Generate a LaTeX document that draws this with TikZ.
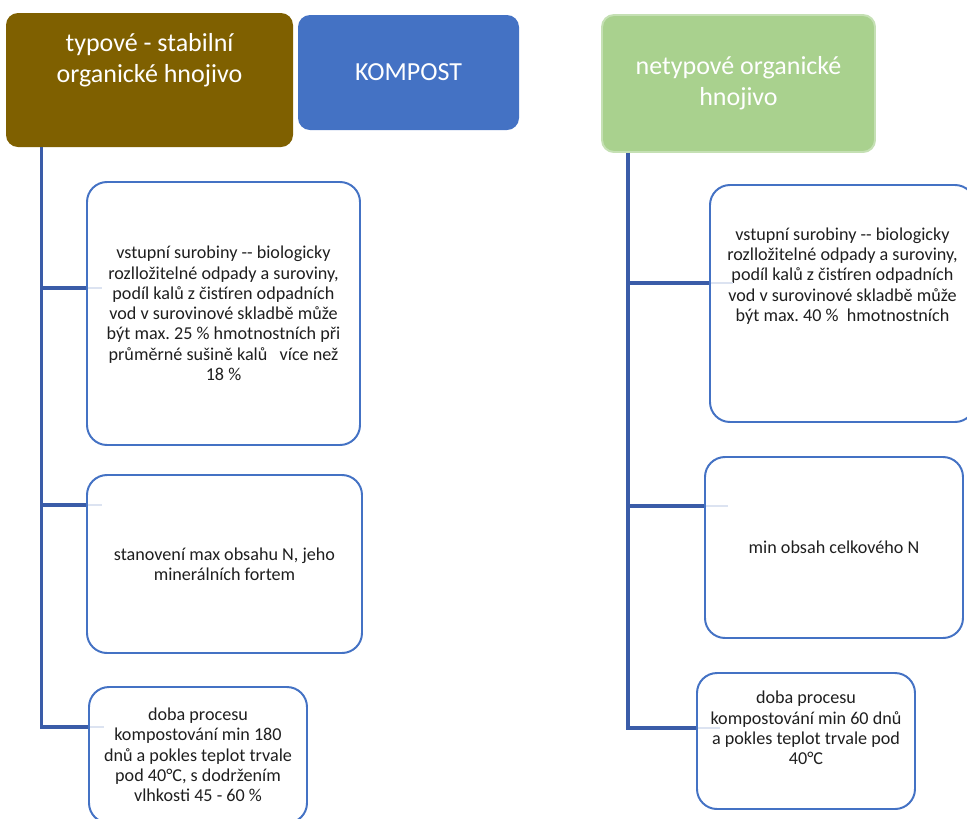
\documentclass[tikz,border=0pt]{standalone}
\usepackage{fontspec}
\setmainfont{Carlito}
\usetikzlibrary{positioning}
\definecolor{headbrown}{HTML}{7F6000}
\definecolor{kompblue}{HTML}{4472C4}
\definecolor{netgreen}{HTML}{A9D18E}
\definecolor{netborder}{HTML}{C5E0B4}
\definecolor{leafblue}{HTML}{4472C4}
\definecolor{linkblue}{HTML}{3A5CA8}
\definecolor{stubblue}{HTML}{DCE3F1}
\newcommand{\pxu}{0.025cm}
\frenchspacing

\begin{document}
\begin{tikzpicture}[x=0.025cm, y=-0.025cm,
		headbox/.style={rounded corners=0.3cm, text=white, align=center, font=\fontsize{18.5}{22}\selectfont},
		headtext/.style={text=white, align=center, font=\fontsize{18.5}{22}\selectfont},
		leaf/.style={draw=leafblue, line width=1.4pt, fill=white, rounded corners=0.5cm, align=center, text=black!88, font=\fontsize{12.9}{14.4}\selectfont},
		leaftext/.style={align=center, text=black!88, font=\fontsize{12.9}{14.4}\selectfont},
		link/.style={draw=linkblue, line width=2.2pt},
		stub/.style={draw=stubblue, line width=2pt}]
			\clip (0,0) rectangle (967,818);

			\node[headbox, fill=headbrown, minimum width=287*\pxu, minimum height=134*\pxu] (typ) at (149.5,80) {};
			\node[headtext] (typtext) at ([yshift=20*\pxu]typ.center) {typové - stabilní\\organické hnojivo};
			\node[headbox, fill=kompblue, minimum width=221*\pxu, minimum height=115*\pxu] (komp) at (408.5,72.5) {KOMPOST};
			\node[headbox, fill=netgreen, draw=netborder, line width=1.4pt, minimum width=273*\pxu, minimum height=137*\pxu] (net) at (738.5,83.5) {netypové organické\\hnojivo};

			\node[leaf, minimum width=273*\pxu, minimum height=263*\pxu] (lnode1) at (223.5,313.5) {vstupní surobiny -{}- biologicky\\rozlložitelné odpady a suroviny,\\podíl kalů z čistíren odpadních\\vod v surovinové skladbě může\\být max. 25 \% hmotnostních při\\průměrné sušině kalů\ \ \ více než\\18 \%};
			\node[leaf, minimum width=275*\pxu, minimum height=178*\pxu] (lnode2) at (224.5,564) {stanovení max obsahu N, jeho\\minerálních fortem};
			\node[leaf, minimum width=218*\pxu, minimum height=136*\pxu] (lnode3) at (198,755) {doba procesu\\kompostování min 180\\dnů a pokles teplot trvale\\pod 40°C, s dodržením\\vlhkosti 45 - 60 \%};

			\node[leaf, minimum width=265*\pxu, minimum height=237*\pxu] (rnode1) at (842.5,303.5) {};
			\node[leaftext] (rtext1) at ([yshift=27.5*\pxu]rnode1.center) {vstupní surobiny -{}- biologicky\\rozlložitelné odpady a suroviny,\\podíl kalů z čistíren odpadních\\vod v surovinové skladbě může\\být max. 40 \%\ \ hmotnostních};
			\node[leaf, minimum width=258*\pxu, minimum height=181*\pxu] (rnode2) at (834,547.5) {min obsah celkového N};
			\node[leaf, minimum width=218*\pxu, minimum height=136*\pxu] (rnode3) at (806,741) {};
			\node[leaftext] (rtext3) at ([yshift=13*\pxu]rnode3.center) {doba procesu\\kompostování min 60 dnů\\a pokles teplot trvale pod\\40°C};

			\coordinate (ltrunk) at ([xshift=36*\pxu]typ.south west);
			\coordinate (rtrunk) at ([xshift=27*\pxu]net.south west);
			\coordinate (lb1) at ([yshift=25.5*\pxu]lnode1.west);
			\coordinate (lb2) at ([yshift=59*\pxu]lnode2.west);
			\coordinate (lb3) at ([yshift=28*\pxu]lnode3.west);
			\coordinate (rb1) at ([yshift=20.5*\pxu]rnode1.west);
			\coordinate (rb2) at ([yshift=41.5*\pxu]rnode2.west);
			\coordinate (rb3) at ([yshift=13*\pxu]rnode3.west);

			\draw[link] (ltrunk) |- (lb3);
			\draw[link] (ltrunk |- lb1) -- (lb1);
			\draw[link] (ltrunk |- lb2) -- (lb2);
			\draw[link] (rtrunk) |- (rb3);
			\draw[link] (rtrunk |- rb1) -- (rb1);
			\draw[link] (rtrunk |- rb2) -- (rb2);

			\draw[stub] ([xshift=1.5*\pxu]lb1) -- ++(14,0);
			\draw[stub] ([xshift=1.5*\pxu]lb2) -- ++(14,0);
			\draw[stub] ([xshift=1.5*\pxu]lb3) -- ++(14,0);
			\draw[stub] ([xshift=1.5*\pxu]rb1) -- ++(22,0);
			\draw[stub] ([xshift=1.5*\pxu]rb2) -- ++(22,0);
			\draw[stub] ([xshift=1.5*\pxu]rb3) -- ++(22,0);
	\end{tikzpicture}
\end{document}
